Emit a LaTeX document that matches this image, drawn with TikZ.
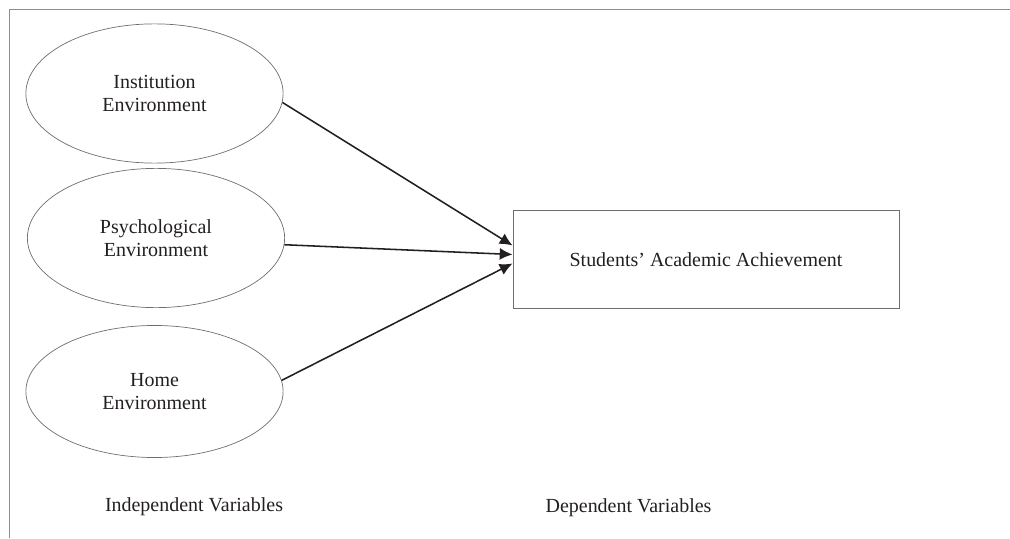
\documentclass[tikz,border=0pt]{standalone}
\usepackage{fontspec}
\setmainfont{Liberation Serif}
\usetikzlibrary{positioning, arrows.meta, shapes.geometric, calc}
\definecolor{ink}{HTML}{231F20}
\definecolor{rim}{HTML}{6D6E70}
\definecolor{frame}{HTML}{8C8C8C}
\tikzset{
  every node/.style = {font=\fontsize{14.2}{16.5}\selectfont, text=ink},
  cfvar/.style  = {ellipse, draw=rim, line width=0.5pt, align=center, inner sep=0pt,
                   minimum width=6.43cm, minimum height=3.48cm},
  cfdep/.style  = {rectangle, draw=rim, line width=0.6pt, align=center,
                   minimum width=9.65cm, minimum height=2.43cm, text depth=-0.06cm},
  cfgo/.style   = {-{Latex[length=3.2mm,width=3mm]}, draw=ink, line width=1.1pt},
  cfcap/.style  = {anchor=center, inner sep=1pt},
}

\begin{document}
\begin{tikzpicture}[x=0.025cm, y=-0.025cm]
\useasboundingbox (0,0) rectangle (1010,538);
\draw[draw=frame, line width=0.7pt] (1010,9) -- (9,9) -- (9,538);

\node[cfvar] (inst) at (154.5,93.5) {Institution\\Environment};
\node[cfvar] (psy)  at (156,238)    {Psychological\\Environment};
\node[cfvar, minimum height=3.3cm] (home) at (154.5,391.5) {Home\\Environment};

\node[cfdep] (ach) at (706,259.5) {Students’ Academic Achievement};

\node[cfcap] (indep) at (194,507)   {Independent Variables};
\node[cfcap] (dep)   at (628.5,508) {Dependent Variables};

\draw[cfgo] (inst.-4) -- ($(ach.west)+(0,-14)$);
\draw[cfgo] (psy.-3)  -- ($(ach.west)+(0,-5)$);
\draw[cfgo] (home.5)  -- ($(ach.west)+(0,4)$);
\end{tikzpicture}
\end{document}
